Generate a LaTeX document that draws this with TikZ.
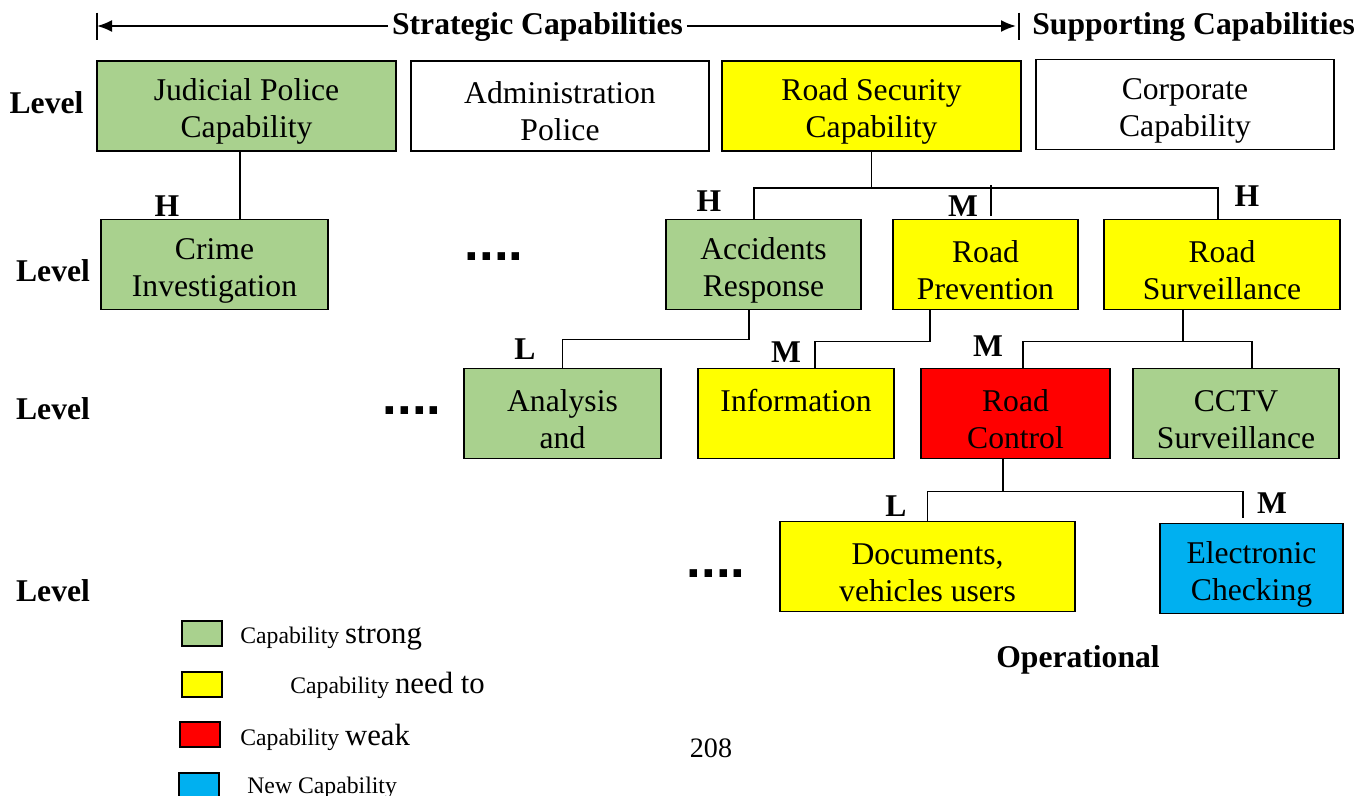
\documentclass[tikz,border=0pt]{standalone}
\usepackage{fontspec}
\setmainfont{Liberation Serif}
\newfontfamily\dotfont{Liberation Sans}
\usepackage{tikz}
\usetikzlibrary{arrows.meta,positioning}
\definecolor{cap_green}{RGB}{169,209,142}
\definecolor{cap_yellow}{RGB}{255,255,0}
\definecolor{cap_red}{RGB}{255,0,0}
\definecolor{cap_blue}{RGB}{0,176,240}
\newcommand{\capstrut}{\rule{0pt}{6.6mm}}

\begin{document}
\begin{tikzpicture}[
    every node/.style={inner sep=2pt},
    capbox/.style={draw=black, line width=1.1pt, minimum height=1.8cm, align=center, inner sep=0pt, font=\fontsize{18}{21}\selectfont},
    cap_plain/.style={capbox, fill=white},
    cap_strong/.style={capbox, fill=cap_green},
    cap_need/.style={capbox, fill=cap_yellow},
    cap_weak/.style={capbox, fill=cap_red},
    cap_new/.style={capbox, fill=cap_blue},
    level/.style={font=\fontsize{18}{21}\selectfont\bfseries},
    grade/.style={font=\fontsize{18}{21}\selectfont\bfseries},
    more/.style={font=\dotfont\fontsize{30}{30}\selectfont\bfseries},
    link/.style={line width=1.1pt},
    span/.style={line width=1.1pt, -{Latex[length=3mm,width=2.4mm]}},
    swatch/.style={draw=black, line width=0.9pt, minimum width=0.8cm, minimum height=0.5cm, inner sep=0pt},
    legend_txt/.style={anchor=base west, inner sep=0pt}
]
    \useasboundingbox (0,0) rectangle (27.4,-15.9);

    % Capability span at the top
    \node[font=\fontsize{18}{21}\selectfont\bfseries, anchor=base] (strat) at (10.75,-0.68) {Strategic Capabilities};
    \node[font=\fontsize{18}{21}\selectfont\bfseries, anchor=base west, inner sep=0pt] (support) at (20.64,-0.68) {Supporting Capabilities};
    \coordinate (strat_l) at (1.94,-0.52);
    \coordinate (strat_r) at (20.32,-0.52);
    \draw[span] (strat.west |- strat_l) -- (strat_l);
    \draw[span] (strat.east |- strat_r) -- (strat_r);
    \draw[link] ([yshift=2.7mm]strat_l) -- ([yshift=-2.7mm]strat_l);
    \draw[link] ([xshift=0.6mm,yshift=2.7mm]strat_r) -- ([xshift=0.6mm,yshift=-2.7mm]strat_r);

    % Level labels
    \node[level] (lv1) at (0.93,-2.06) {Level};
    \node[level] (lv2) at (1.06,-5.42) {Level};
    \node[level] (lv3) at (1.06,-8.18) {Level};
    \node[level] (lv4) at (1.06,-11.82) {Level};

    % Top level capabilities
    \node[cap_strong, minimum width=5.98cm] (judicial) at (4.93,-2.12) {\capstrut Judicial Police\\Capability};
    \node[cap_plain, minimum width=5.96cm] (admin) at (11.2,-2.12) {\capstrut Administration\\Police};
    \node[cap_need, minimum width=5.98cm] (roadsec) at (17.43,-2.12) {\capstrut Road Security\\Capability};
    \node[cap_plain, minimum width=5.96cm] (corporate) at (23.7,-2.09) {\capstrut Corporate\\Capability};

    % Second level
    \node[cap_strong, minimum width=4.54cm] (crime) at (4.29,-5.29) {\capstrut Crime\\Investigation};
    \node[more] (more1) at (9.88,-5.14) {....};
    \node[cap_strong, minimum width=3.9cm] (accidents) at (15.27,-5.29) {\capstrut Accidents\\Response};
    \node[cap_need, minimum width=3.7cm] (prevention) at (19.71,-5.29) {\capstrut Road\\Prevention};
    \node[cap_need, minimum width=4.72cm] (surveil) at (24.44,-5.29) {\capstrut Road\\Surveillance};

    % Third level
    \node[more] (more2) at (8.24,-8.22) {....};
    \node[cap_strong, minimum width=3.94cm] (analysis) at (11.25,-8.27) {\capstrut Analysis\\and};
    \node[cap_need, minimum width=3.92cm] (information) at (15.92,-8.27) {\capstrut Information\\~};
    \node[cap_weak, minimum width=3.78cm] (control) at (20.31,-8.27) {\capstrut Road\\Control};
    \node[cap_strong, minimum width=4.12cm] (cctv) at (24.72,-8.27) {\capstrut CCTV\\Surveillance};

    % Operational level
    \node[more] (more3) at (14.32,-11.48) {....};
    \node[cap_need, minimum width=5.9cm] (documents) at (18.55,-11.33) {\capstrut Documents,\\vehicles users};
    \node[cap_new, minimum width=3.66cm] (electronic) at (25.03,-11.37) {\capstrut Electronic\\Checking};
    \node[font=\fontsize{18}{21}\selectfont\bfseries] (operational) at (21.56,-13.2) {Operational};

    % Links between capabilities
    \draw[link] ([xshift=-1.3mm]judicial.south) -- ([xshift=-1.3mm]judicial.south |- crime.north);
    \coordinate (bus1) at ([yshift=-7.2mm]roadsec.south);
    \draw[link] (roadsec.south) -- (bus1);
    \draw[link] ([xshift=-1.9mm]accidents.north) |- (bus1) -| ([xshift=-0.8mm]surveil.north);
    \draw[link] ([xshift=1.1mm,yshift=0.5mm]prevention.north) -- ([xshift=1.1mm,yshift=6.8mm]prevention.north);
    \coordinate (bus2) at ([xshift=-2.9mm,yshift=-5.8mm]accidents.south);
    \draw[link] ([xshift=-2.9mm]accidents.south) -- (bus2) -| (analysis.north);
    \coordinate (bus3) at ([xshift=-11.1mm,yshift=-6.2mm]prevention.south);
    \draw[link] ([xshift=-11.1mm]prevention.south) -- (bus3) -| ([xshift=3.8mm]information.north);
    \coordinate (bus4) at ([xshift=-7.8mm,yshift=-6.2mm]surveil.south);
    \draw[link] ([xshift=-7.8mm]surveil.south) -- (bus4);
    \draw[link] ([xshift=1.5mm]control.north) |- (bus4) -| ([xshift=3.2mm]cctv.north);
    \coordinate (bus5) at ([xshift=-2.5mm,yshift=-6.4mm]control.south);
    \draw[link] ([xshift=-2.5mm]control.south) -- (bus5);
    \draw[link] (documents.north) |- (bus5) -| ([xshift=-1.7mm,yshift=1mm]electronic.north);

    % Grades on the links
    \node[grade] (g_crime) at (3.34,-4.12) {H};
    \node[grade] (g_accidents) at (14.18,-4.02) {H};
    \node[grade] (g_prevention) at (19.26,-4.12) {M};
    \node[grade] (g_surveil) at (24.94,-3.92) {H};
    \node[grade] (g_analysis) at (10.5,-6.98) {L};
    \node[grade] (g_information) at (15.72,-7.04) {M};
    \node[grade] (g_control) at (19.76,-6.92) {M};
    \node[grade] (g_documents) at (17.92,-10.12) {L};
    \node[grade] (g_electronic) at (25.44,-10.06) {M};

    % Legend
    \node[swatch, fill=cap_green] (sw_strong) at (4.04,-12.67) {};
    \node[swatch, fill=cap_yellow] (sw_need) at (4.04,-13.69) {};
    \node[swatch, fill=cap_red] (sw_weak) at (4.0,-14.69) {};
    \node[swatch, fill=cap_blue] (sw_new) at (3.98,-15.71) {};
    \node[legend_txt] (lg_strong) at (4.8,-12.86) {\fontsize{13.5}{15}\selectfont Capability \fontsize{17.5}{20}\selectfont strong};
    \node[legend_txt] (lg_need) at (5.8,-13.86) {\fontsize{13.5}{15}\selectfont Capability \fontsize{17.5}{20}\selectfont need to};
    \node[legend_txt] (lg_weak) at (4.8,-14.9) {\fontsize{13.5}{15}\selectfont Capability \fontsize{17.5}{20}\selectfont weak};
    \node[legend_txt] (lg_new) at (4.94,-15.86) {\fontsize{13.5}{15}\selectfont New Capability};

    % Page number
    \node[font=\fontsize{16}{19}\selectfont] (page) at (14.22,-14.96) {208};
\end{tikzpicture}
\end{document}
